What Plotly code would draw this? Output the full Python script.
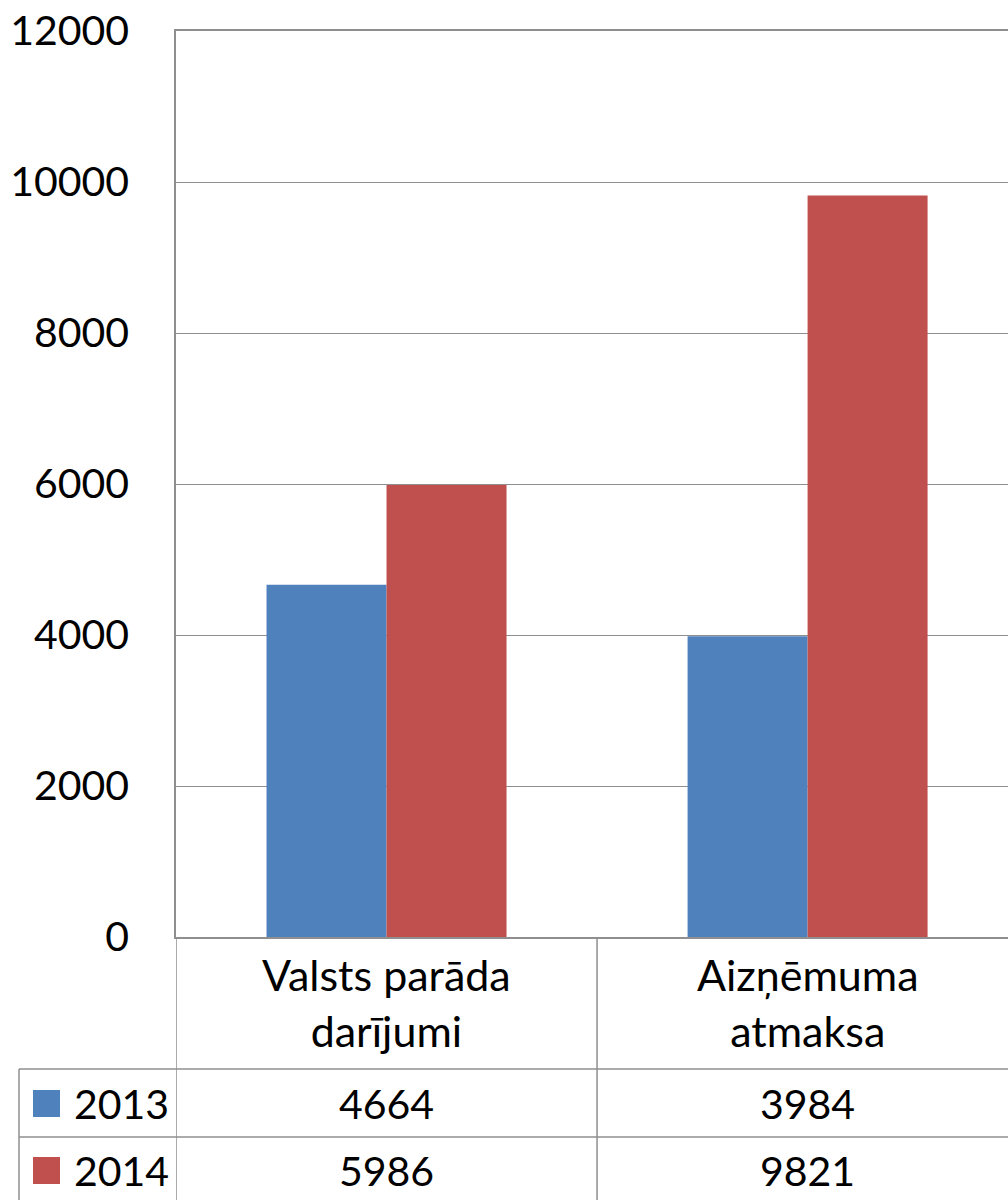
import plotly.graph_objects as go

# ---- data ----------------------------------------------------------
CATEGORIES = ["Valsts parāda<br>darījumi", "Aizņēmuma<br>atmaksa"]
SERIES = ["2013", "2014"]
VALUES_2013 = [4664, 3984]
VALUES_2014 = [5986, 9821]
COLORS = ["#4F81BD", "#C0504D"]
Y_TICKS = [0, 2000, 4000, 6000, 8000, 10000, 12000]

FONT = "Lato, 'Open Sans', sans-serif"
GRID = "#8f8f8f"

# plot-area pixel frame (used to place the data table under the chart)
W, H = 1008, 1200
L, T, B = 176, 31, 937
PLOT_H = B - T


def py(pix):
    """pixel row -> paper y"""
    return (B - pix) / PLOT_H


fig = go.Figure()
x_idx = list(range(len(CATEGORIES)))
for name, vals, color in zip(SERIES, [VALUES_2013, VALUES_2014], COLORS):
    fig.add_trace(go.Bar(x=x_idx, y=vals, name=name,
                         marker=dict(color=color, line=dict(width=0)),
                         showlegend=False))

shapes = []
ann = []

# ---- data table ----------------------------------------------------
row_lines = [1069, 1137]
for r in row_lines:
    shapes.append(dict(type="line", xref="paper", yref="paper",
                       x0=(19 - L) / (W - L), x1=1.02, y0=py(r), y1=py(r),
                       line=dict(color=GRID, width=1.5)))
# vertical separators at category boundaries
for xb in [-0.5, 0.5, 1.5]:
    shapes.append(dict(type="line", xref="x", yref="paper",
                       x0=xb, x1=xb, y0=0, y1=py(1210),
                       line=dict(color=GRID, width=1.5)))
shapes.append(dict(type="line", xref="paper", yref="paper",
                   x0=(19 - L) / (W - L), x1=(19 - L) / (W - L),
                   y0=py(1069), y1=py(1210),
                   line=dict(color=GRID, width=1.5)))

# category header
for i, cat in enumerate(CATEGORIES):
    ann.append(dict(x=i, y=py(1002), xref="x", yref="paper", text=cat,
                    showarrow=False, xanchor="center", yanchor="middle",
                    font=dict(family=FONT, size=43, color="#000")))

# series rows
row_centers = [1103, 1170]
for name, vals, color, rc in zip(SERIES, [VALUES_2013, VALUES_2014], COLORS, row_centers):
    shapes.append(dict(type="rect", xref="paper", yref="paper",
                       x0=(33 - L) / (W - L), x1=(60 - L) / (W - L),
                       y0=py(rc - 13), y1=py(rc + 14),
                       fillcolor=color, line=dict(width=0)))
    ann.append(dict(x=(72 - L) / (W - L), y=py(rc), xref="paper", yref="paper",
                    text=name, showarrow=False, xanchor="left", yanchor="middle",
                    font=dict(family=FONT, size=41, color="#000")))
    for i, v in enumerate(vals):
        ann.append(dict(x=i, y=py(rc), xref="x", yref="paper", text=str(v),
                        showarrow=False, xanchor="center", yanchor="middle",
                        font=dict(family=FONT, size=41, color="#000")))

fig.update_layout(
    width=W, height=H,
    margin=dict(l=L, r=0, t=T, b=H - B),
    paper_bgcolor="white", plot_bgcolor="white",
    barmode="group", bargap=0.43, bargroupgap=0,
    shapes=shapes, annotations=ann,
    font=dict(family=FONT, size=41, color="#000"),
)
fig.update_xaxes(range=[-0.5, 1.476], showticklabels=False, showgrid=False,
                 showline=True, mirror=True, linecolor=GRID, linewidth=1.5,
                 ticks="", zeroline=False, fixedrange=True)
fig.update_yaxes(range=[0, 12000], tickvals=Y_TICKS,
                 ticktext=[str(t) for t in Y_TICKS],
                 showgrid=True, gridcolor=GRID, gridwidth=1.2,
                 showline=True, linecolor=GRID, linewidth=1.5,
                 zeroline=False, ticks="", ticklabelstandoff=37,
                 tickfont=dict(family=FONT, size=41, color="#000"),
                 fixedrange=True)

fig.write_html("out.html", config={"displayModeBar": False},
               post_script="document.body.style.margin='0';")
